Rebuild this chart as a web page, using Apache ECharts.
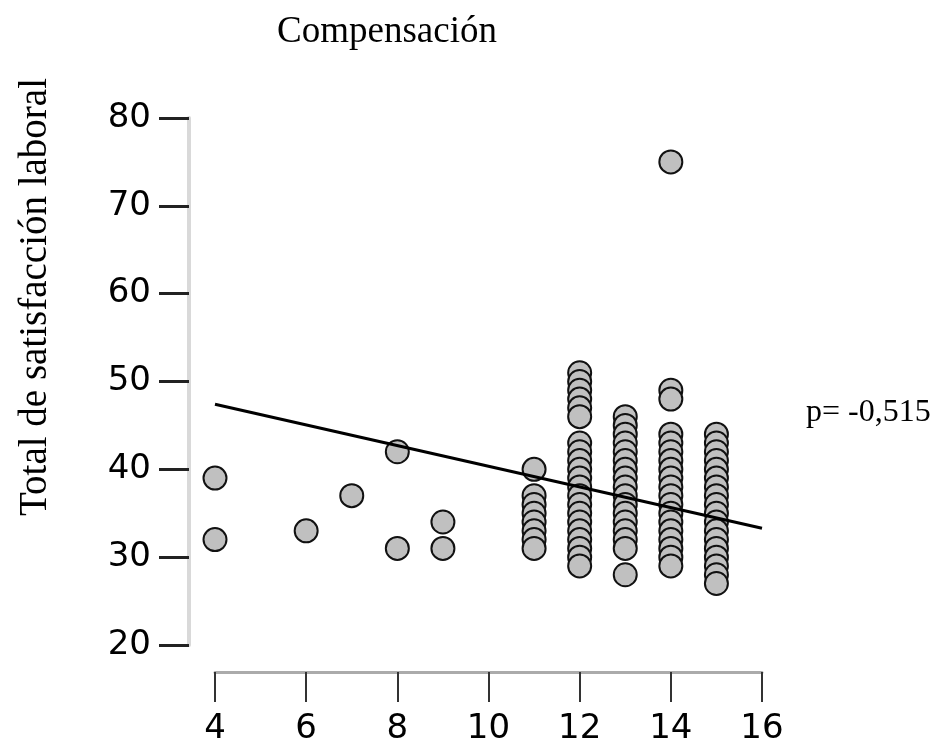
<!DOCTYPE html>
<html>
<head>
<meta charset="utf-8">
<script src="https://cdn.jsdelivr.net/npm/echarts@6/dist/echarts.min.js"></script>
<style>
  html, body { margin: 0; padding: 0; background: #fff; }
  #chart { width: 939px; height: 749px; }
</style>
</head>
<body>
<div id="chart"></div>
<script>
// Compensación (x) vs total de satisfacción laboral (y)
var compensacion = [4, 4, 6, 7, 8, 8, 9, 9];
var satisfaccion = [39, 32, 33, 37, 42, 31, 34, 31];

// columnas densas: x -> lista de valores y
var col11 = [40, 37, 36, 35, 34, 33, 32, 31];
var col12 = [51, 50, 49, 48, 47, 46, 43, 42, 41, 40, 39, 38, 37, 36, 35, 34, 33, 32, 31, 30, 29];
var col13 = [46, 45, 44, 43, 42, 41, 40, 39, 38, 37, 36, 35, 34, 33, 32, 31, 28];
var col14 = [75, 49, 48, 44, 43, 42, 41, 40, 39, 38, 37, 36, 35, 34, 33, 32, 31, 30, 29];
var col15 = [44, 43, 42, 41, 40, 39, 38, 37, 36, 35, 34, 33, 32, 31, 30, 29, 28, 27];

// recta de ajuste (extremos)
var lineX = [4, 16];
var lineY = [47.4, 33.3];

var xTicks = [4, 6, 8, 10, 12, 14, 16];
var yTicks = [20, 30, 40, 50, 60, 70, 80];

var points = [];
for (var i = 0; i < compensacion.length; i++) points.push([compensacion[i], satisfaccion[i]]);
[[11, col11], [12, col12], [13, col13], [14, col14], [15, col15]].forEach(function (c) {
  c[1].forEach(function (v) { points.push([c[0], v]); });
});

var myChart = echarts.init(document.getElementById('chart'));
myChart.setOption({
  animation: false,
  title: {
    text: 'Compensación',
    left: 382,
    top: 9,
    textAlign: 'center',
    textStyle: { fontFamily: 'Liberation Serif', fontWeight: 'normal', fontSize: 37, color: '#000' }
  },
  graphic: [
    {
      type: 'text',
      x: 36, y: 297,
      rotation: Math.PI / 2,
      style: {
        text: 'Total de satisfacción laboral',
        font: '39px "Liberation Serif"',
        fill: '#000',
        textAlign: 'center',
        textVerticalAlign: 'middle'
      }
    },
    {
      type: 'text',
      x: 806, y: 413,
      style: {
        text: 'p= -0,515',
        font: '32px "Liberation Serif"',
        fill: '#000',
        textAlign: 'left',
        textVerticalAlign: 'middle'
      }
    }
  ],
  grid: { left: 215, right: 177, top: 118, bottom: 104 },
  xAxis: {
    type: 'value',
    min: xTicks[0],
    max: xTicks[xTicks.length - 1],
    interval: 2,
    offset: 27,
    splitLine: { show: false },
    axisLine: { show: true, lineStyle: { color: '#ababab', width: 3 } },
    axisTick: { show: true, length: 30, lineStyle: { color: '#333', width: 2 } },
    axisLabel: { margin: 40, fontFamily: 'DejaVu Sans', fontSize: 34, color: '#000' }
  },
  yAxis: {
    type: 'value',
    min: yTicks[0],
    max: yTicks[yTicks.length - 1],
    interval: 10,
    offset: 26,
    splitLine: { show: false },
    axisLine: { show: true, lineStyle: { color: '#d9d9d9', width: 4 } },
    axisTick: { show: true, length: 30, lineStyle: { color: '#222', width: 3 } },
    axisLabel: { margin: 38, fontFamily: 'DejaVu Sans', fontSize: 34, color: '#000' }
  },
  series: [
    {
      type: 'scatter',
      data: points,
      symbol: 'circle',
      symbolSize: 23,
      itemStyle: { color: '#c0c0c0', borderColor: '#111', borderWidth: 2, opacity: 1 }
    },
    {
      type: 'line',
      data: [[lineX[0], lineY[0]], [lineX[1], lineY[1]]],
      symbol: 'none',
      z: 5,
      lineStyle: { color: '#000', width: 3 }
    }
  ]
});
</script>
</body>
</html>
